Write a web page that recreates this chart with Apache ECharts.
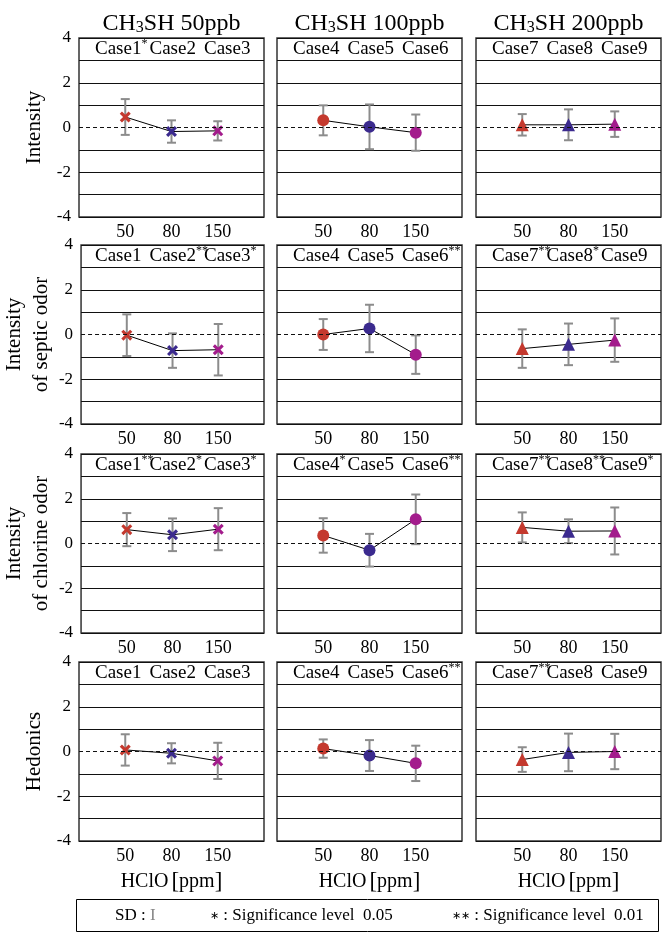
<!DOCTYPE html>
<html>
<head>
<meta charset="utf-8">
<script src="https://cdn.jsdelivr.net/npm/echarts@6/dist/echarts.min.js"></script>
<style>
html, body { margin: 0; padding: 0; background: #fff; }
#chart { width: 665px; height: 933px; }
</style>
</head>
<body>
<div id="chart"></div>
<script>
// HClO concentrations on the x axis (empty slots pad both ends)
var hclo = ['', '50', '80', '150', ''];
var concTitles = ['50ppb', '100ppb', '200ppb'];
var rowNames = ['Intensity', 'Intensity\nof septic odor', 'Intensity\nof chlorine odor', 'Hedonics'];
var yTicks = [-4, -2, 0, 2, 4];

// means and SD, [column (CH3SH conc)][case]
var intensityMean = [[0.47, -0.18, -0.15], [0.32, 0.03, -0.23], [0.12, 0.12, 0.15]];
var intensitySD = [[0.8, 0.5, 0.43], [0.67, 1.0, 0.81], [0.48, 0.69, 0.57]];
var septicMean = [[-0.03, -0.72, -0.68], [0.0, 0.27, -0.9], [-0.63, -0.44, -0.25]];
var septicSD = [[0.93, 0.77, 1.15], [0.69, 1.06, 0.86], [0.86, 0.93, 0.97]];
var chlorineMean = [[0.62, 0.39, 0.64], [0.36, -0.3, 1.08], [0.72, 0.55, 0.56]];
var chlorineSD = [[0.74, 0.73, 0.94], [0.77, 0.73, 1.11], [0.67, 0.53, 1.05]];
var hedonicMean = [[0.07, -0.08, -0.42], [0.13, -0.18, -0.53], [-0.36, -0.04, 0.0]];
var hedonicSD = [[0.7, 0.45, 0.81], [0.41, 0.69, 0.79], [0.55, 0.84, 0.79]];

// significance marks per row / column / case
var significance = [
    [['*', '', ''], ['', '', ''], ['', '', '']],
    [['', '**', '*'], ['', '', '**'], ['**', '*', '']],
    [['**', '*', '*'], ['*', '', '**'], ['**', '**', '*']],
    [['', '', ''], ['', '', '**'], ['**', '', '']]
];

var means = [intensityMean, septicMean, chlorineMean, hedonicMean];
var sds = [intensitySD, septicSD, chlorineSD, hedonicSD];

var caseColors = ['#c4392e', '#3b2a8e', '#a31c8c'];
var crossPath = 'path://M2,0L5,3L8,0L10,2L7,5L10,8L8,10L5,7L2,10L0,8L3,5L0,2Z';
var symbols = [crossPath, 'circle', 'triangle'];
var symbolSizes = [11, 12, 13];

var rowTop = [38, 245, 454, 662];
var colLeft = [79, 277, 476];
var panelW = 185, panelH = 179;
var serif = "'Liberation Serif', 'Times New Roman', serif";

var myChart = echarts.init(document.getElementById('chart'));

var grids = [], xAxes = [], yAxes = [], series = [], graphics = [];

for (var r = 0; r < 4; r++) {
    for (var c = 0; c < 3; c++) {
        var idx = r * 3 + c;
        grids.push({
            left: colLeft[c], top: rowTop[r], width: panelW, height: panelH,
            show: true, borderColor: '#333', borderWidth: 1.5, backgroundColor: 'transparent'
        });
        xAxes.push({
            type: 'category', gridIndex: idx, data: hclo, boundaryGap: false,
            axisLine: {show: false}, axisTick: {show: false}, splitLine: {show: false},
            axisLabel: {interval: 0, fontSize: 18, color: '#000', fontFamily: serif, margin: 6},
            name: r === 3 ? '{a|HClO}{b|[}{a|ppm}{c|]}' : '',
            nameLocation: 'middle', nameGap: 29,
            nameTextStyle: {
                fontSize: 20, color: '#000', fontFamily: serif,
                rich: {
                    a: {fontSize: 20, fontFamily: serif, color: '#000'},
                    b: {fontSize: 23, fontFamily: serif, color: '#000', padding: [0, 0, 0, 3]},
                    c: {fontSize: 23, fontFamily: serif, color: '#000', padding: [0, 0, 0, 0]}
                }
            }
        });
        yAxes.push({
            type: 'value', gridIndex: idx, min: -4, max: 4, interval: 1,
            axisLine: {show: false}, axisTick: {show: false},
            axisLabel: {
                show: c === 0, fontSize: 17, color: '#000', fontFamily: serif, margin: 8,
                formatter: function (v) { return yTicks.indexOf(v) >= 0 ? String(v) : ''; }
            },
            splitLine: {
                show: true,
                lineStyle: {
                    width: 1,
                    color: ['#111', '#111', '#111', '#111', 'rgba(0,0,0,0)', '#111', '#111', '#111', '#111']
                }
            },
            name: c === 0 ? rowNames[r] : '',
            nameLocation: 'middle', nameRotate: 90,
            nameGap: rowNames[r].indexOf('\n') >= 0 ? 16 : 31,
            nameTextStyle: {fontSize: 21, lineHeight: 27, color: '#000', fontFamily: serif}
        });

        var m = means[r][c], s = sds[r][c];

        series.push({
            type: 'custom', xAxisIndex: idx, yAxisIndex: idx, z: 2,
            data: m.map(function (v, i) { return [i + 1, v - s[i], v + s[i]]; }),
            encode: {x: 0, y: [1, 2]},
            renderItem: function (params, api) {
                var lo = api.coord([api.value(0), api.value(1)]);
                var hi = api.coord([api.value(0), api.value(2)]);
                var cap = 4.5;
                var st = {stroke: '#8c8c8c', lineWidth: 2};
                return {
                    type: 'group',
                    children: [
                        {type: 'line', shape: {x1: lo[0], y1: lo[1], x2: hi[0], y2: hi[1]}, style: st},
                        {type: 'line', shape: {x1: lo[0] - cap, y1: lo[1], x2: lo[0] + cap, y2: lo[1]}, style: st},
                        {type: 'line', shape: {x1: hi[0] - cap, y1: hi[1], x2: hi[0] + cap, y2: hi[1]}, style: st}
                    ]
                };
            }
        });

        series.push({
            type: 'line', xAxisIndex: idx, yAxisIndex: idx, z: 3,
            symbol: symbols[c], symbolSize: symbolSizes[c],
            lineStyle: {color: '#000', width: 1},
            data: m.map(function (v, i) {
                return {value: [i + 1, v], itemStyle: {color: caseColors[i]}};
            }),
            markLine: {
                silent: true, symbol: ['none', 'none'], animation: false,
                label: {show: false},
                lineStyle: {color: '#111', width: 1, type: [4, 3]},
                data: [{yAxis: 0}]
            }
        });

        // case labels with superscript significance marks
        for (var k = 0; k < 3; k++) {
            var sig = significance[r][c][k];
            graphics.push({
                type: 'text',
                x: colLeft[c] + 16 + k * 54.5,
                y: rowTop[r] + 11,
                style: {
                    text: 'Case' + (c * 3 + k + 1) + (sig ? '{s|' + sig + '}' : ''),
                    font: '19px ' + serif, fontSize: 19, fontFamily: serif,
                    fill: '#000', lineHeight: 22,
                    align: 'left', verticalAlign: 'middle',
                    textAlign: 'left', textVerticalAlign: 'middle',
                    rich: {s: {fontSize: 12, fontFamily: serif, lineHeight: 18, verticalAlign: 'top', fill: '#000'}}
                }
            });
        }
    }
}

// column titles
for (var c2 = 0; c2 < 3; c2++) {
    graphics.push({
        type: 'text',
        x: colLeft[c2] + panelW / 2,
        y: 22,
        style: {
            text: '{a|CH}{b|3}{a|SH ' + concTitles[c2] + '}',
            align: 'center', verticalAlign: 'middle',
            textAlign: 'center', textVerticalAlign: 'middle',
            rich: {
                a: {fontSize: 24, fontFamily: serif, lineHeight: 28, fill: '#000', verticalAlign: 'bottom'},
                b: {fontSize: 16, fontFamily: serif, lineHeight: 22, fill: '#000', verticalAlign: 'bottom'}
            }
        }
    });
}

// legend box
graphics.push({
    type: 'rect',
    shape: {x: 76.5, y: 899.5, width: 582, height: 32},
    style: {fill: 'none', stroke: '#000', lineWidth: 1}
});
var legendItems = [
    {x: 115, text: '{t|SD : }{g|I}'},
    {x: 210, text: '{k|∗}{t| : Significance level  0.05}'},
    {x: 452, text: '{k|∗∗}{t| : Significance level  0.01}'}
];
legendItems.forEach(function (it) {
    graphics.push({
        type: 'text', x: it.x, y: 916,
        style: {
            text: it.text,
            align: 'left', verticalAlign: 'middle',
            textAlign: 'left', textVerticalAlign: 'middle',
            rich: {
                t: {fontSize: 17, fontFamily: serif, fill: '#000'},
                k: {fontSize: 11, fontFamily: serif, fill: '#000'},
                g: {fontSize: 17, fontFamily: serif, fill: '#888'}
            }
        }
    });
});

var option = {
    animation: false,
    backgroundColor: '#fff',
    grid: grids,
    xAxis: xAxes,
    yAxis: yAxes,
    series: series,
    graphic: {elements: graphics}
};

myChart.setOption(option);
</script>
</body>
</html>
